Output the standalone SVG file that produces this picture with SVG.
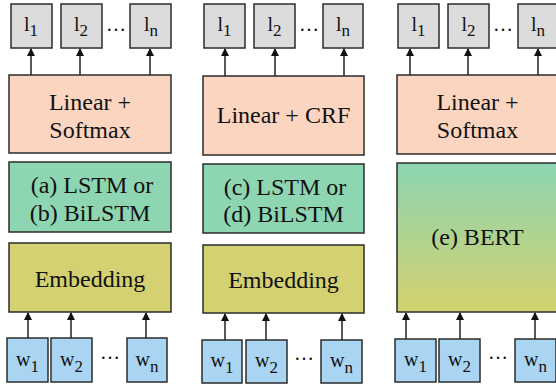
<svg xmlns="http://www.w3.org/2000/svg" width="556" height="388" viewBox="0 0 556 388">
<style>
text{font-family:"Liberation Serif","Times New Roman",serif;fill:#111;}
.b{stroke:#2b2b2b;stroke-width:1.5;}
.lab{fill:#dcdcdc;}
.lin{fill:#fcd5c1;}
.rnn{fill:#8ed5b1;}
.emb{fill:#d3d171;}
.w{fill:#a9d5f2;}
.t{font-size:24px;text-anchor:middle;}
.s{font-size:20px;text-anchor:middle;}
.sub{font-size:17px;}
.c{stroke:#111;stroke-width:1.4;fill:none;marker-end:url(#ah);}
.dots{font-size:20px;text-anchor:middle;}
</style>
<defs>
<marker id="ah" markerWidth="8" markerHeight="8" refX="7" refY="4" orient="auto" markerUnits="userSpaceOnUse">
<path d="M0,0 L8,4 L0,8 Z" fill="#111"/>
</marker>
<linearGradient id="bert" x1="0" y1="0" x2="0" y2="1">
<stop offset="0" stop-color="#8cd5b2"/>
<stop offset="1" stop-color="#d4d16e"/>
</linearGradient>
</defs>

<g id="connectors">
<path class="c" d="M31,75 V49"/>
<path class="c" d="M80,75 V49"/>
<path class="c" d="M150,75 V49"/>
<path class="c" d="M28,338 V313"/>
<path class="c" d="M71,338 V313"/>
<path class="c" d="M146,338 V313"/>
<path class="c" d="M225,76 V49"/>
<path class="c" d="M275,76 V49"/>
<path class="c" d="M344,76 V49"/>
<path class="c" d="M225,340 V314"/>
<path class="c" d="M266,340 V314"/>
<path class="c" d="M342,340 V314"/>
<path class="c" d="M410,75 V49"/>
<path class="c" d="M468,75 V49"/>
<path class="c" d="M538,75 V49"/>
<path class="c" d="M406,339 V313"/>
<path class="c" d="M460,339 V313"/>
<path class="c" d="M535,339 V313"/>
</g>

<!-- Panel 1 -->
<g id="p1-l1"><rect class="b lab" x="11" y="4" width="41" height="44"/><text class="s" x="31" y="31">l<tspan class="sub" dy="5">1</tspan></text></g>
<g id="p1-l2"><rect class="b lab" x="61" y="4" width="41" height="44"/><text class="s" x="81" y="31">l<tspan class="sub" dy="5">2</tspan></text></g>
<text class="dots" x="116" y="31">…</text>
<g id="p1-ln"><rect class="b lab" x="130" y="4" width="41" height="44"/><text class="s" x="151" y="31">l<tspan class="sub" dy="5">n</tspan></text></g>
<g id="p1-linear"><rect class="b lin" x="9" y="75" width="162" height="78"/><text class="t" x="90" y="110">Linear +</text><text class="t" x="90" y="138">Softmax</text></g>
<g id="p1-lstm"><rect class="b rnn" x="9" y="162" width="162" height="70"/><text class="t" x="92" y="193">(a) LSTM or</text><text class="t" x="90" y="221">(b) BiLSTM</text></g>
<g id="p1-emb"><rect class="b emb" x="9" y="243" width="162" height="69"/><text class="t" x="90" y="287">Embedding</text></g>
<g id="p1-w1"><rect class="b w" x="7" y="338" width="41" height="44"/><text class="s" x="27.5" y="366">w<tspan class="sub" dy="6">1</tspan></text></g>
<g id="p1-w2"><rect class="b w" x="51" y="338" width="41" height="44"/><text class="s" x="71.5" y="366">w<tspan class="sub" dy="6">2</tspan></text></g>
<text class="dots" x="110" y="359">…</text>
<g id="p1-wn"><rect class="b w" x="127" y="338" width="40" height="44"/><text class="s" x="147" y="366">w<tspan class="sub" dy="6">n</tspan></text></g>

<!-- Panel 2 -->
<g id="p2-l1"><rect class="b lab" x="204" y="4" width="41" height="44"/><text class="s" x="224.5" y="31">l<tspan class="sub" dy="5">1</tspan></text></g>
<g id="p2-l2"><rect class="b lab" x="254" y="4" width="41" height="44"/><text class="s" x="274.5" y="31">l<tspan class="sub" dy="5">2</tspan></text></g>
<text class="dots" x="309" y="31">…</text>
<g id="p2-ln"><rect class="b lab" x="323" y="4" width="40" height="44"/><text class="s" x="343" y="31">l<tspan class="sub" dy="5">n</tspan></text></g>
<g id="p2-linear"><rect class="b lin" x="203" y="76" width="161" height="79"/><text class="t" x="283.5" y="123">Linear + CRF</text></g>
<g id="p2-lstm"><rect class="b rnn" x="203" y="164" width="161" height="69"/><text class="t" x="285" y="195">(c) LSTM or</text><text class="t" x="283.5" y="222">(d) BiLSTM</text></g>
<g id="p2-emb"><rect class="b emb" x="203" y="245" width="161" height="68"/><text class="t" x="283.5" y="288">Embedding</text></g>
<g id="p2-w1"><rect class="b w" x="202" y="340" width="40" height="43"/><text class="s" x="222" y="367">w<tspan class="sub" dy="6">1</tspan></text></g>
<g id="p2-w2"><rect class="b w" x="246" y="340" width="41" height="43"/><text class="s" x="266.5" y="367">w<tspan class="sub" dy="6">2</tspan></text></g>
<text class="dots" x="304" y="360">…</text>
<g id="p2-wn"><rect class="b w" x="321" y="340" width="41" height="43"/><text class="s" x="341.5" y="367">w<tspan class="sub" dy="6">n</tspan></text></g>

<!-- Panel 3 -->
<g id="p3-l1"><rect class="b lab" x="398" y="4" width="41" height="44"/><text class="s" x="418.5" y="31">l<tspan class="sub" dy="5">1</tspan></text></g>
<g id="p3-l2"><rect class="b lab" x="448" y="4" width="41" height="44"/><text class="s" x="468.5" y="31">l<tspan class="sub" dy="5">2</tspan></text></g>
<text class="dots" x="503" y="31">…</text>
<g id="p3-ln"><rect class="b lab" x="518" y="4" width="41" height="44"/><text class="s" x="538" y="31">l<tspan class="sub" dy="5">n</tspan></text></g>
<g id="p3-linear"><rect class="b lin" x="397" y="75" width="162" height="79"/><text class="t" x="477.5" y="110">Linear +</text><text class="t" x="477.5" y="138">Softmax</text></g>
<g id="p3-bert"><rect class="b" fill="url(#bert)" x="397" y="163" width="162" height="149"/><text class="t" x="477.5" y="245">(e) BERT</text></g>
<g id="p3-w1"><rect class="b w" x="395" y="339" width="41" height="43"/><text class="s" x="415.5" y="366">w<tspan class="sub" dy="6">1</tspan></text></g>
<g id="p3-w2"><rect class="b w" x="439" y="339" width="41" height="43"/><text class="s" x="459.5" y="366">w<tspan class="sub" dy="6">2</tspan></text></g>
<text class="dots" x="498" y="359">…</text>
<g id="p3-wn"><rect class="b w" x="515" y="339" width="41" height="43"/><text class="s" x="535.5" y="366">w<tspan class="sub" dy="6">n</tspan></text></g>
</svg>
